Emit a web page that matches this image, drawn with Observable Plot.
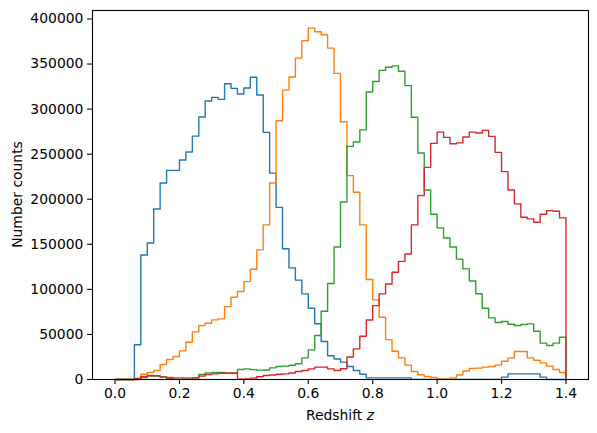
<!DOCTYPE html>
<html><head><meta charset="utf-8">
<script src="https://cdn.jsdelivr.net/npm/d3@7"></script>
<script src="https://cdn.jsdelivr.net/npm/@observablehq/plot@0.6"></script>
<style>
html,body{margin:0;padding:0;background:#fff;}
svg{font-family:"DejaVu Sans",sans-serif;}
</style>
</head><body><div id="chart"></div>
<script>
// Bin edges of the redshift histograms (0.00 to 1.40, width 0.02)
const binEdges = d3.range(71).map(i => +(i * 0.02).toFixed(2));

const seriesNames = ["bin 1", "bin 2", "bin 3", "bin 4"];
const seriesColors = ["#1f77b4", "#ff7f0e", "#2ca02c", "#d62728"];

const countsBlue = [
  0, 0, 0, 38500, 138200, 151500, 189200, 218000, 232000, 232000,
  243500, 252400, 270000, 291200, 309000, 313000, 310800, 328200, 323000, 316700,
  323400, 335400, 315600, 274200, 229000, 191000, 145000, 123800, 110200, 95000,
  79100, 61800, 42100, 26300, 22800, 19300, 14400, 10000, 5800, 1800,
  1800, 1800, 1800, 1800, 1800, 1800, 100, 100, 100, 100,
  100, 100, 100, 100, 100, 100, 100, 100, 100, 100,
  2600, 6300, 6300, 6300, 6300, 6300, 2600, 0, 0, 0
];
const countsOrange = [
  0, 0, 0, 1500, 5900, 7800, 10000, 16600, 22200, 25500,
  31800, 41400, 52900, 59900, 62400, 66100, 67300, 80900, 91300, 97600,
  108600, 122300, 143800, 171500, 218000, 287100, 321100, 335600, 356600, 375800,
  389900, 385800, 382500, 367700, 339600, 286000, 226200, 207700, 171500, 110900,
  88300, 69100, 44300, 31400, 24000, 16000, 8900, 5200, 3300, 2200,
  600, 600, 1800, 5000, 9500, 12200, 12600, 13700, 14400, 15900,
  20300, 24000, 31000, 31000, 24000, 21400, 18500, 14800, 11100, 7800
];
const countsGreen = [
  0, 0, 0, 0, 2200, 3700, 3700, 3000, 2200, 1800,
  1800, 1800, 1800, 5500, 7400, 7800, 7800, 7000, 7000, 11100,
  11800, 11000, 10400, 10500, 12900, 14400, 14800, 15800, 17400, 24000,
  32900, 48800, 75700, 106500, 147000, 197000, 258700, 263500, 277000, 319000,
  330700, 343000, 346500, 348000, 342000, 326000, 291000, 251300, 210300, 183400,
  168200, 157000, 147000, 133600, 122700, 109300, 95200, 79100, 68400, 63200,
  64300, 61300, 59900, 61000, 61700, 53600, 40300, 37700, 40300, 46900
];
const countsRed = [
  0, 0, 0, 1000, 3000, 4400, 4100, 2600, 1100, 400,
  400, 400, 1800, 3700, 5500, 6300, 7000, 7400, 7400, 400,
  700, 1500, 3000, 4400, 5000, 5900, 6300, 7200, 8900, 10000,
  11800, 13700, 13700, 11800, 10000, 12000, 25000, 34000, 48000, 66000,
  82000, 95000, 106000, 119000, 131000, 139300, 171500, 204000, 235400, 262000,
  274500, 268600, 261500, 262500, 269000, 274500, 273500, 276400, 269800, 252000,
  230600, 210300, 194800, 180000, 178200, 174400, 183300, 187400, 186600, 179300
];

const xTicks = [0, 0.2, 0.4, 0.6, 0.8, 1.0, 1.2, 1.4];
const yTicks = [0, 50000, 100000, 150000, 200000, 250000, 300000, 350000, 400000];
const xLabel = "Redshift ";
const xLabelMath = "z";
const yLabel = "Number counts";

const allCounts = [countsBlue, countsOrange, countsGreen, countsRed];
const yMax = d3.max(allCounts.flat()) * 1.05;
const xPad = (binEdges[70] - binEdges[0]) * 0.05;
const FS = 13.9;

function stepPoints(values, name) {
  const pts = [{x: binEdges[0], y: 0, s: name}];
  values.forEach((v, i) => pts.push({x: binEdges[i], y: v, s: name}));
  pts.push({x: binEdges[70], y: 0, s: name});
  return pts;
}

const chart = Plot.plot({
  width: 597,
  height: 433,
  marginLeft: 92,
  marginRight: 9,
  marginTop: 10,
  marginBottom: 54,
  style: {fontFamily: "DejaVu Sans", fontSize: FS + "px", color: "#000", background: "#fff", overflow: "visible"},
  x: {domain: [binEdges[0] - xPad, binEdges[70] + xPad]},
  y: {domain: [0, yMax]},
  marks: [
    ...allCounts.map((vals, i) => Plot.line(stepPoints(vals, seriesNames[i]), {
      x: "x", y: "y", curve: "step-after", stroke: seriesColors[i], strokeWidth: 1.39
    })),
    Plot.frame({stroke: "#000", strokeWidth: 1.1}),
    Plot.axisX({ticks: xTicks, tickFormat: d3.format(".1f"), tickSize: 4.9, tickPadding: 4.2, strokeWidth: 1.1, label: null, fontSize: FS}),
    Plot.axisY({ticks: yTicks, tickFormat: d => String(d), tickSize: 4.9, tickPadding: 4.2, strokeWidth: 1.1, label: null, fontSize: FS})
  ]
});

document.getElementById("chart").appendChild(chart);

const svg = d3.select(chart);
svg.append("text")
  .attr("transform", "translate(17,194.5) rotate(-90)")
  .attr("text-anchor", "middle")
  .attr("dominant-baseline", "central")
  .attr("font-family", "DejaVu Sans")
  .attr("font-size", FS)
  .attr("fill", "#000")
  .text(yLabel);
const xl = svg.append("text")
  .attr("x", 340)
  .attr("y", 420)
  .attr("text-anchor", "middle")
  .attr("font-family", "DejaVu Sans")
  .attr("font-size", FS)
  .attr("fill", "#000");
xl.append("tspan").text(xLabel);
xl.append("tspan").attr("font-style", "italic").text(xLabelMath);
</script>
</body></html>
